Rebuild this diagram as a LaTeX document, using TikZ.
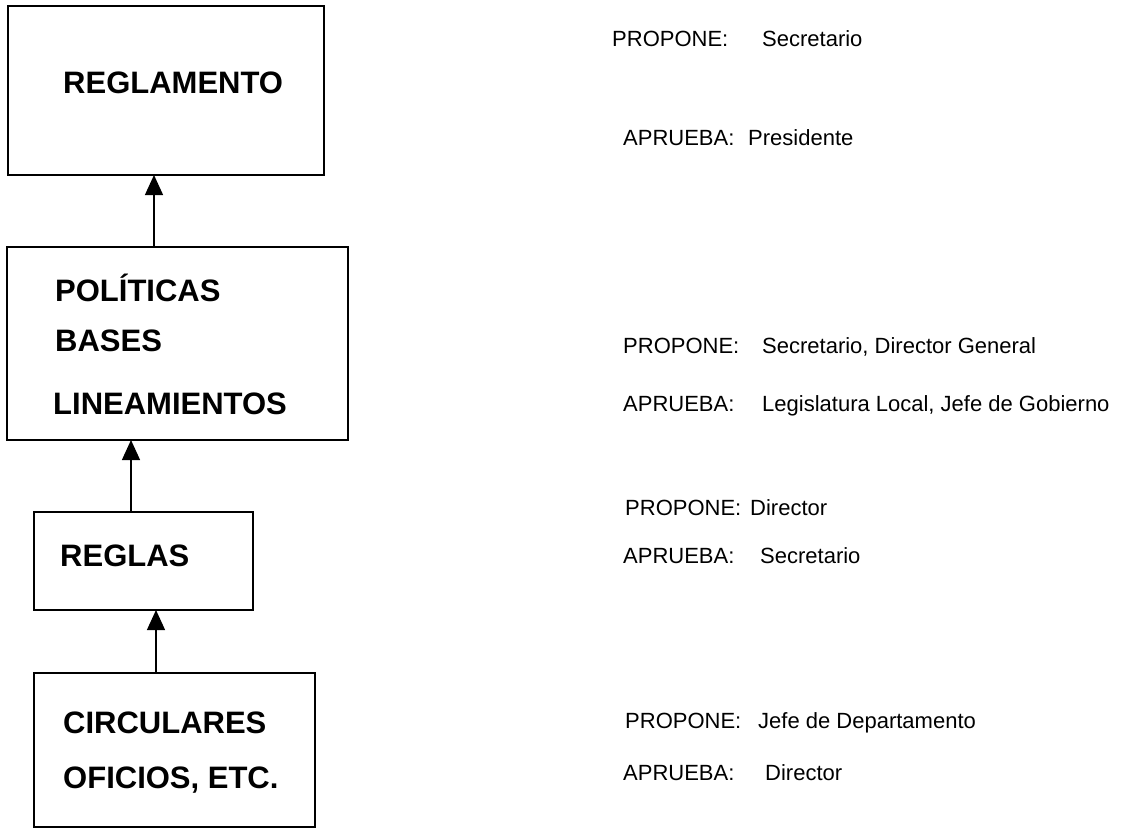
\documentclass[tikz,border=0pt]{standalone}
\usepackage{fontspec}
\setmainfont{Liberation Sans}
\usetikzlibrary{arrows.meta}
\tikzset{
  box/.style={draw=black, line width=1.8pt, inner sep=0pt, outer sep=0pt},
  bigtxt/.style={anchor=base west, inner sep=0pt, font=\fontsize{31}{37}\selectfont\bfseries},
  lbl/.style={anchor=base west, inner sep=0pt, font=\fontsize{22}{26}\selectfont},
  arr/.style={line width=1.3pt, -{Triangle[length=20pt, width=18pt]}}
}
\begin{document}
\begin{tikzpicture}[x=1pt, y=-1pt]
\useasboundingbox (0,0) rectangle (1145,828);
% boxes
\node[box, minimum width=316pt, minimum height=169pt] (b1) at (166,90.5) {};
\node[box, minimum width=341pt, minimum height=193pt] (b2) at (177.5,343.5) {};
\node[box, minimum width=219pt, minimum height=98pt] (b3) at (143.5,561) {};
\node[box, minimum width=281pt, minimum height=154pt] (b4) at (174.5,750) {};
% box texts
\node[bigtxt] (t1) at (63,93) {REGLAMENTO};
\node[bigtxt] (t2a) at (55,301) {POLÍTICAS};
\node[bigtxt] (t2b) at (55,351) {BASES};
\node[bigtxt] (t2c) at (53,414) {LINEAMIENTOS};
\node[bigtxt] (t3) at (60,566) {REGLAS};
\node[bigtxt] (t4a) at (63,733) {CIRCULARES};
\node[bigtxt] (t4b) at (63,788) {OFICIOS, ETC.};
% arrows
\coordinate (xa) at (154,0);
\coordinate (xb) at (131,0);
\coordinate (xc) at (156,0);
\draw[arr] (xa |- b2.north) -- (xa |- b1.south);
\draw[arr] (xb |- b3.north) -- (xb |- b2.south);
\draw[arr] (xc |- b4.north) -- (xc |- b3.south);
% right labels
\node[lbl] (p1) at (612,46) {PROPONE:};
\node[lbl] (v1) at (762,46) {Secretario};
\node[lbl] (a1) at (623,145) {APRUEBA:};
\node[lbl] (w1) at (748,145) {Presidente};
\node[lbl] (p2) at (623,353) {PROPONE:};
\node[lbl] (v2) at (762,353) {Secretario, Director General};
\node[lbl] (a2) at (623,411) {APRUEBA:};
\node[lbl] (w2) at (762,411) {Legislatura Local, Jefe de Gobierno};
\node[lbl] (p3) at (625,515) {PROPONE:};
\node[lbl] (v3) at (750,515) {Director};
\node[lbl] (a3) at (623,563) {APRUEBA:};
\node[lbl] (w3) at (760,563) {Secretario};
\node[lbl] (p4) at (625,728) {PROPONE:};
\node[lbl] (v4) at (758,728) {Jefe de Departamento};
\node[lbl] (a4) at (623,780) {APRUEBA:};
\node[lbl] (w4) at (765,780) {Director};
\end{tikzpicture}
\end{document}
